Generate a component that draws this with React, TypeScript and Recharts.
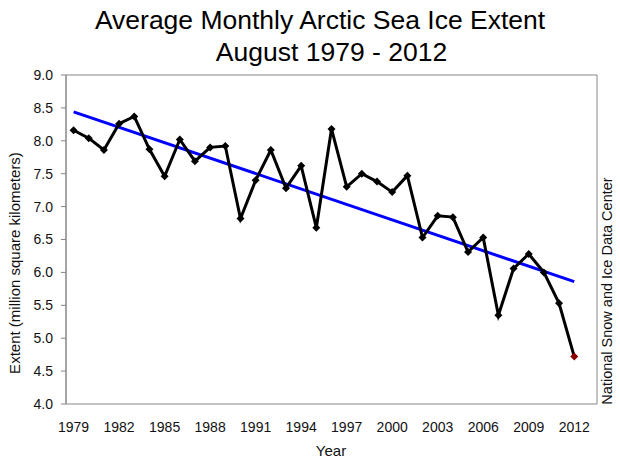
import React from "react";
import { LineChart, Line, XAxis, YAxis, ReferenceArea } from "recharts";

const years = [
  1979, 1980, 1981, 1982, 1983, 1984, 1985, 1986, 1987, 1988, 1989, 1990,
  1991, 1992, 1993, 1994, 1995, 1996, 1997, 1998, 1999, 2000, 2001, 2002,
  2003, 2004, 2005, 2006, 2007, 2008, 2009, 2010, 2011, 2012,
];

const extent = [
  8.16, 8.04, 7.86, 8.26, 8.37, 7.87, 7.46, 8.02, 7.69, 7.9, 7.92, 6.82,
  7.4, 7.86, 7.28, 7.62, 6.68, 8.18, 7.3, 7.5, 7.38, 7.22, 7.47, 6.53,
  6.86, 6.84, 6.31, 6.53, 5.35, 6.06, 6.28, 6.0, 5.53, 4.72,
];

const trendStart = 8.44;
const trendEnd = 5.86;

const yTicks = [4.0, 4.5, 5.0, 5.5, 6.0, 6.5, 7.0, 7.5, 8.0, 8.5, 9.0];
const xLabelYears = [1979, 1982, 1985, 1988, 1991, 1994, 1997, 2000, 2003, 2006, 2009, 2012];

const xMin = years[0] - 0.5;
const xMax = years[years.length - 1] + 1.5;
const boundaryTicks = [...years.map((y) => y - 0.5), years[years.length - 1] + 0.5, xMax];

const data = years.map((year, i) => ({
  year,
  extent: extent[i],
  trend: i === 0 ? trendStart : i === years.length - 1 ? trendEnd : null,
}));

const GRAY = "#868686";
const TEXT = "#111";
const FONT = "'Liberation Sans', Arial, Helvetica, sans-serif";

const Diamond = (props: any) => {
  const { cx, cy, index } = props;
  if (cx == null || cy == null) return <g key={`d-${index}`} />;
  const r = 4;
  const last = index === years.length - 1;
  return (
    <polygon
      key={`d-${index}`}
      points={`${cx},${cy - r} ${cx + r},${cy} ${cx},${cy + r} ${cx - r},${cy}`}
      fill={last ? "#8B0000" : "#000"}
      stroke="none"
    />
  );
};

export default function App() {
  return (
    <div
      style={{
        position: "absolute",
        left: 0,
        top: 0,
        width: 620,
        height: 464,
        background: "#fff",
        fontFamily: FONT,
        color: "#000",
      }}
    >
      <LineChart
        width={620}
        height={464}
        data={data}
        margin={{ top: 75, right: 23, bottom: 30, left: 0 }}
      >
        <XAxis
          xAxisId="a"
          dataKey="year"
          type="number"
          domain={[xMin, xMax]}
          ticks={boundaryTicks}
          interval={0}
          height={0}
          axisLine={{ stroke: GRAY }}
          tickLine={{ stroke: GRAY }}
          tickSize={5}
          tick={() => null}
          allowDataOverflow
        />
        <XAxis
          xAxisId="b"
          dataKey="year"
          type="number"
          domain={[xMin, xMax]}
          ticks={xLabelYears}
          interval={0}
          height={30}
          axisLine={false}
          tickLine={false}
          tickMargin={12}
          tick={{ fontSize: 14, fill: TEXT }}
          allowDataOverflow
        />
        <YAxis
          type="number"
          domain={[4, 9]}
          ticks={yTicks}
          interval={0}
          width={66}
          axisLine={{ stroke: GRAY }}
          tickLine={{ stroke: GRAY }}
          tickSize={5}
          tickMargin={8}
          tickFormatter={(v: number) => v.toFixed(1)}
          tick={{ fontSize: 14, fill: TEXT }}
        />
        <ReferenceArea
          xAxisId="a"
          x1={xMin}
          x2={xMax}
          y1={4}
          y2={9}
          fill="none"
          stroke={GRAY}
          strokeWidth={1}
        />
        <Line
          xAxisId="a"
          dataKey="trend"
          stroke="#0000FF"
          strokeWidth={3}
          dot={false}
          connectNulls
          isAnimationActive={false}
        />
        <Line
          xAxisId="a"
          dataKey="extent"
          stroke="#000"
          strokeWidth={3}
          dot={Diamond}
          activeDot={false}
          isAnimationActive={false}
        />
      </LineChart>

      <div
        style={{
          position: "absolute",
          left: 0,
          width: 640,
          top: 4,
          textAlign: "center",
          fontSize: 26.5,
          lineHeight: "32px",
          whiteSpace: "nowrap",
        }}
      >
        Average Monthly Arctic Sea Ice Extent
      </div>
      <div
        style={{
          position: "absolute",
          left: 0,
          width: 663,
          top: 36,
          textAlign: "center",
          fontSize: 26.5,
          lineHeight: "32px",
          whiteSpace: "nowrap",
        }}
      >
        August 1979 - 2012
      </div>
      <div
        style={{
          position: "absolute",
          left: 14,
          top: 263,
          transform: "translate(-50%, -50%) rotate(-90deg)",
          fontSize: 15,
          whiteSpace: "nowrap",
          color: TEXT,
        }}
      >
        Extent (million square kilometers)
      </div>
      <div
        style={{
          position: "absolute",
          left: 607,
          top: 291,
          transform: "translate(-50%, -50%) rotate(-90deg)",
          fontSize: 14.5,
          whiteSpace: "nowrap",
          color: TEXT,
        }}
      >
        National Snow and Ice Data Center
      </div>
      <div
        style={{
          position: "absolute",
          left: 331,
          top: 450,
          transform: "translate(-50%, -50%)",
          fontSize: 15,
          whiteSpace: "nowrap",
          color: TEXT,
        }}
      >
        Year
      </div>
    </div>
  );
}
